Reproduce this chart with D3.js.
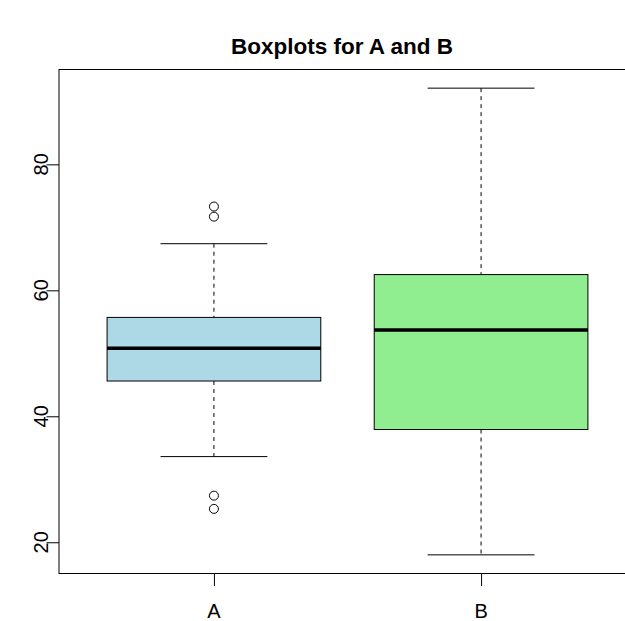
<!DOCTYPE html>
<html><head><meta charset="utf-8">
<script src="https://cdn.jsdelivr.net/npm/d3@7"></script>
<style>body{margin:0;background:#fff}svg{display:block}text{font-family:"Liberation Sans",Arial,Helvetica,sans-serif}</style>
</head><body>
<script>
const categories = ["A", "B"];
const q1 = [45.6, 37.9];
const median = [50.8, 53.7];
const q3 = [55.7, 62.5];
const whiskerLow = [33.6, 18.0];
const whiskerHigh = [67.4, 92.1];
const outliers = [[73.3, 71.7, 27.4, 25.3], []];
const fills = ["#ADD8E6", "#90EE90"];
const yTicks = [20, 40, 60, 80];

const W = 625, H = 621;
const svg = d3.select("body").append("svg").attr("width", W).attr("height", H);

const x = d3.scaleLinear().domain([0.42, 2.58]).range([59, 636]);
const y = d3.scaleLinear().domain([15.04, 95.06]).range([573.5, 69.5]);

svg.append("text").attr("x", 342).attr("y", 54).attr("text-anchor", "middle")
  .style("font-weight", "bold").style("font-size", "22.5px").text("Boxplots for A and B");

const g = svg.append("g");
categories.forEach((c, i) => {
  const cx = x(i + 1), bw = x(1.4) - x(1), sw = x(1.2) - x(1);
  g.append("line").attr("x1", cx).attr("x2", cx).attr("y1", y(whiskerHigh[i])).attr("y2", y(q3[i]))
    .attr("stroke", "#000").attr("stroke-dasharray", "4,4");
  g.append("line").attr("x1", cx).attr("x2", cx).attr("y1", y(q1[i])).attr("y2", y(whiskerLow[i]))
    .attr("stroke", "#000").attr("stroke-dasharray", "4,4");
  [whiskerHigh[i], whiskerLow[i]].forEach(v => {
    g.append("line").attr("x1", cx - sw).attr("x2", cx + sw).attr("y1", y(v)).attr("y2", y(v))
      .attr("stroke", "#000");
  });
  g.append("rect").attr("x", cx - bw).attr("width", 2 * bw)
    .attr("y", y(q3[i])).attr("height", y(q1[i]) - y(q3[i]))
    .attr("fill", fills[i]).attr("stroke", "#000");
  g.append("line").attr("x1", cx - bw).attr("x2", cx + bw).attr("y1", y(median[i])).attr("y2", y(median[i]))
    .attr("stroke", "#000").attr("stroke-width", 3.5);
  outliers[i].forEach(v => {
    g.append("circle").attr("cx", cx).attr("cy", y(v)).attr("r", 4.5)
      .attr("fill", "none").attr("stroke", "#000");
  });
});

svg.append("rect").attr("x", x.range()[0]).attr("y", y.range()[1])
  .attr("width", x.range()[1] - x.range()[0]).attr("height", y.range()[0] - y.range()[1])
  .attr("fill", "none").attr("stroke", "#000");

const yAxis = d3.axisLeft(y).tickValues(yTicks).tickSize(12.5).tickPadding(0).tickFormat(d3.format("d"));
const ya = svg.append("g").attr("transform", `translate(${x.range()[0]},0)`).call(yAxis);
ya.select(".domain").remove();
ya.selectAll("text").remove();
yTicks.forEach(t => {
  svg.append("text").attr("transform", `translate(48,${y(t)}) rotate(-90)`)
    .attr("text-anchor", "middle").style("font-size", "20px").text(t);
});

const xAxis = d3.axisBottom(x).tickValues([1, 2]).tickSize(12.5).tickFormat((d, i) => categories[i]);
const xa = svg.append("g").attr("transform", `translate(0,${y.range()[0]})`).call(xAxis);
xa.select(".domain").remove();
xa.selectAll("text").remove();
categories.forEach((c, i) => {
  svg.append("text").attr("x", x(i + 1)).attr("y", 618).attr("text-anchor", "middle")
    .style("font-size", "20px").text(c);
});
</script>
</body></html>
